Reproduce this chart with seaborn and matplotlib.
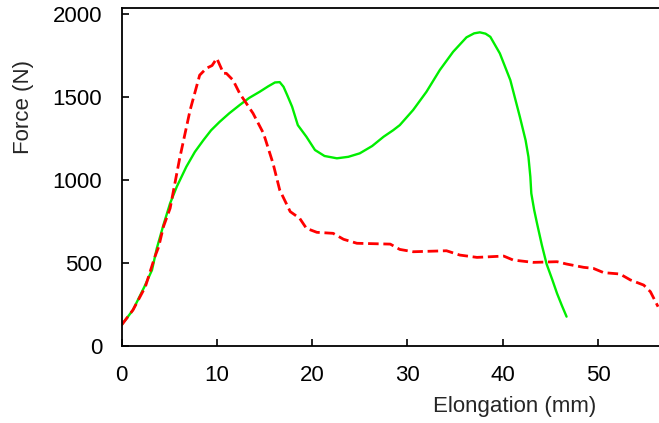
import matplotlib
matplotlib.use("Agg")
from matplotlib import pyplot as plt
import seaborn as sns
import pandas as pd

# green specimen (solid)
green_x = [0.0, 1.2, 2.4, 3.2, 3.7, 4.4, 5.1, 5.8, 6.8, 7.7, 8.6, 9.4, 10.3,
           11.3, 12.4, 13.4, 14.5, 15.4, 16.1, 16.6, 17.0, 17.4, 17.9, 18.5,
           19.4, 20.3, 21.3, 22.6, 23.8, 25.0, 26.3, 27.5, 28.5, 29.2, 30.6,
           32.0, 33.4, 34.8, 36.2, 37.0, 37.6, 38.2, 38.7, 39.7, 40.8, 41.8,
           42.4, 42.7, 42.9, 43.0, 43.3, 43.6, 44.1, 44.6, 45.2, 45.7, 46.2,
           46.7]
green_f = [126, 217, 357, 458, 588, 730, 860, 960, 1080, 1170, 1241, 1300, 1351,
           1402, 1452, 1495, 1532, 1565, 1588, 1590, 1562, 1510, 1442, 1331,
           1261, 1181, 1145, 1131, 1140, 1161, 1205, 1261, 1300, 1331, 1422,
           1532, 1663, 1773, 1860, 1884, 1890, 1882, 1863, 1763, 1602, 1381,
           1240, 1140, 1020, 920, 820, 739, 610, 495, 400, 317, 245,
           177]

# red specimen (dashed)
red_x = [0.0, 1.2, 2.5, 3.5, 3.9, 4.4, 5.1, 6.1, 7.2, 8.2, 8.9, 9.5, 10.0,
         10.7, 11.0, 11.7, 12.4, 13.8, 14.9, 15.9, 16.6, 17.7, 18.7, 19.4,
         20.5, 22.2, 23.3, 24.7, 28.2, 29.2, 30.6, 34.1, 35.5, 37.3, 40.1,
         41.1, 43.2, 45.7, 46.7, 48.5, 49.5, 50.6, 52.3, 53.4, 54.8, 55.5,
         56.3]
red_f = [126, 217, 357, 538, 598, 719, 830, 1130, 1422, 1632, 1673, 1690, 1733,
         1643, 1643, 1602, 1522, 1402, 1281, 1100, 940, 810, 769, 709,
         685, 679, 643, 619, 614, 582, 568, 574, 548, 534, 542,
         518, 504, 508, 494, 474, 468, 442, 434, 398, 367, 327,
         237]

xticks = [0, 10, 20, 30, 40, 50]
yticks = [0, 500, 1000, 1500, 2000]

sns.set_style("ticks")
plt.rcParams['font.family'] = ['Liberation Sans', 'DejaVu Sans']

fig = plt.figure(figsize=(6.59, 4.23), dpi=100)
ax = fig.add_axes([0.1844, 0.182, 0.8156, 0.800])

green = pd.DataFrame({"x": green_x, "f": green_f})
red = pd.DataFrame({"x": red_x, "f": red_f})

sns.lineplot(data=green, x="x", y="f", sort=False, estimator=None,
             color="#00ee00", lw=1.7, ax=ax)
sns.lineplot(data=red, x="x", y="f", sort=False, estimator=None,
             color="#ff0000", lw=2.0, ax=ax)
ax.lines[-1].set_dashes((3.8, 1.7))

ax.set_xlim(0, 56.4)
ax.set_ylim(0, 2039)
ax.set_xticks(xticks)
ax.set_yticks(yticks)
ax.tick_params(direction="in", length=5, width=1.2, labelsize=16, pad=14,
               colors="black")
for side in ["left", "bottom", "top"]:
    ax.spines[side].set_linewidth(1.3)
    ax.spines[side].set_color("black")
ax.spines["right"].set_visible(False)

ax.set_xlabel("Elongation (mm)", fontsize=16)
ax.set_ylabel("Force (N)", fontsize=16)
ax.xaxis.set_label_coords(0.732, -0.148)
ax.yaxis.set_label_coords(-0.163, 0.706)

plt.savefig("out.png", dpi=100)
